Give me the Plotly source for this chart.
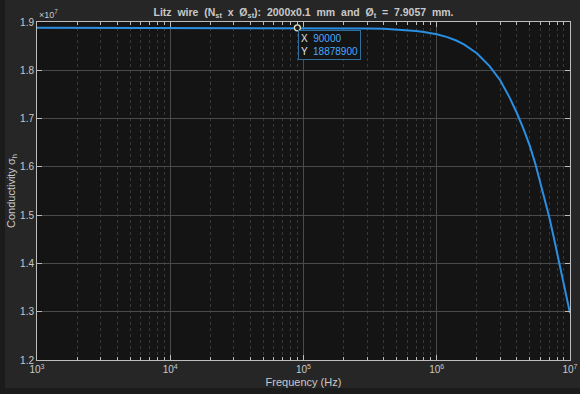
import plotly.graph_objects as go

# ---- data ----
freq_hz = [1e3, 1e4, 5e4, 1e5, 1.5e5, 2e5, 3e5, 4e5, 5e5, 6e5, 7e5, 8e5, 9e5,
           1e6, 1.2e6, 1.4e6, 1.6e6, 1.8e6, 2e6, 2.5e6, 3e6, 3.5e6, 4e6, 4.5e6,
           5e6, 5.5e6, 6e6, 6.5e6, 7e6, 7.5e6, 8e6, 8.5e6, 9e6, 9.5e6, 1e7]
sigma_h = [1.88789e7, 1.88789e7, 1.88789e7, 1.88788e7, 1.8878e7, 1.8874e7,
           1.8867e7, 1.8858e7, 1.8846e7, 1.8831e7, 1.8814e7, 1.8793e7, 1.8771e7,
           1.8745e7, 1.8687e7, 1.8617e7, 1.8535e7, 1.8447e7, 1.8352e7, 1.808e7,
           1.779e7, 1.745e7, 1.711e7, 1.677e7, 1.643e7, 1.606e7, 1.568e7,
           1.532e7, 1.495e7, 1.458e7, 1.422e7, 1.388e7, 1.354e7, 1.325e7, 1.297e7]
tip_x = [90000]
tip_y = [18878900]

x_tickvals = [1e3, 1e4, 1e5, 1e6, 1e7]
x_ticktext = ["10<sup>3</sup>", "10<sup>4</sup>", "10<sup>5</sup>", "10<sup>6</sup>", "10<sup>7</sup>"]
x_minorvals = [m * d for d in (1e3, 1e4, 1e5, 1e6) for m in range(2, 10)]
y_tickvals = [1.2e7, 1.3e7, 1.4e7, 1.5e7, 1.6e7, 1.7e7, 1.8e7, 1.9e7]
y_ticktext = ["1.2", "1.3", "1.4", "1.5", "1.6", "1.7", "1.8", "1.9"]

FONT = "Liberation Sans, Arial, Helvetica, sans-serif"
TXT = "#c9c9c9"
BLUE = "#2a8fe3"
W, H = 580, 394
ML, MR, MT, MB = 37, 10, 22, 34
PW, PH = W - ML - MR, H - MT - MB

fig = go.Figure()
fig.add_trace(go.Scatter(x=freq_hz, y=sigma_h, mode="lines",
                         line=dict(color=BLUE, width=2),
                         hoverinfo="skip", showlegend=False))
fig.add_trace(go.Scatter(x=tip_x, y=tip_y, mode="markers",
                         marker=dict(size=6, color="#1a1a1a",
                                     line=dict(color="#e8e4c0", width=1.3)),
                         hoverinfo="skip", showlegend=False))

fig.add_annotation(x=4.9542, y=tip_y[0], xref="x", yref="y",
                   text=("X  <span style='color:#4aa8ff'>90000</span><br>"
                         "Y  <span style='color:#4aa8ff'>18878900</span>"),
                   showarrow=False, xanchor="left", yanchor="top", align="left",
                   xshift=1, yshift=-2,
                   font=dict(family=FONT, size=10, color="#e0e0e0"),
                   bgcolor="#141414", bordercolor="#2e6f9e", borderwidth=1, borderpad=2)

# x10^7 exponent label
fig.add_annotation(x=0, y=1, xref="paper", yref="paper", text="×10<sup>7</sup>",
                   showarrow=False, xanchor="left", yanchor="bottom", yshift=0,
                   font=dict(family=FONT, size=9, color=TXT))

axis_common = dict(showline=True, linecolor="#bdbdbd", linewidth=1, mirror="ticks",
                   ticks="inside", ticklen=5, tickcolor="#bdbdbd",
                   zeroline=False, automargin=False,
                   tickfont=dict(family=FONT, size=10, color=TXT))

fig.update_xaxes(type="log", range=[3, 7], tickvals=x_tickvals, ticktext=x_ticktext,
                 showgrid=True, gridcolor="#4a4a4a", gridwidth=1,
                 minor=dict(tickmode="array", tickvals=x_minorvals,
                            ticks="inside", ticklen=3, tickcolor="#bdbdbd",
                            showgrid=True, gridcolor="#383838", griddash="dot"),
                 title=dict(text="Frequency (Hz)", standoff=4,
                            font=dict(family=FONT, size=11, color=TXT)),
                 **axis_common)
fig.update_yaxes(range=[1.2e7, 1.9e7], tickvals=y_tickvals, ticktext=y_ticktext,
                 showgrid=True, gridcolor="#4a4a4a", gridwidth=1,
                 title=dict(text="Conductivity σ<sub>h</sub>", standoff=2,
                            font=dict(family=FONT, size=11, color=TXT)),
                 **axis_common)

# dark window edge strips (left and bottom)
fig.add_shape(type="rect", xref="paper", yref="paper",
              x0=(0 - ML) / PW, x1=(5 - ML) / PW,
              y0=-(MB) / PH, y1=(PH + MT) / PH,
              fillcolor="#1b1b1b", line=dict(width=0), layer="above")
fig.add_shape(type="rect", xref="paper", yref="paper",
              x0=(0 - ML) / PW, x1=(W - ML) / PW,
              y0=-(MB) / PH, y1=-(MB - 6) / PH,
              fillcolor="#1b1b1b", line=dict(width=0), layer="above")

fig.update_layout(
    width=W, height=H,
    margin=dict(l=ML, r=MR, t=MT, b=MB),
    paper_bgcolor="#262626", plot_bgcolor="#141414",
    title=dict(text=("Litz  wire  (N<sub>st</sub>  x  Ø<sub>st</sub>):  2000x0.1  mm  and  "
                     "Ø<sub>t</sub>  =  7.9057  mm."),
               x=(ML + PW / 2) / W, xanchor="center", y=1 - 12 / H, yanchor="middle",
               font=dict(family=FONT, size=10.5, color=TXT, weight="bold")),
    showlegend=False,
)

fig.write_html("out.html")
